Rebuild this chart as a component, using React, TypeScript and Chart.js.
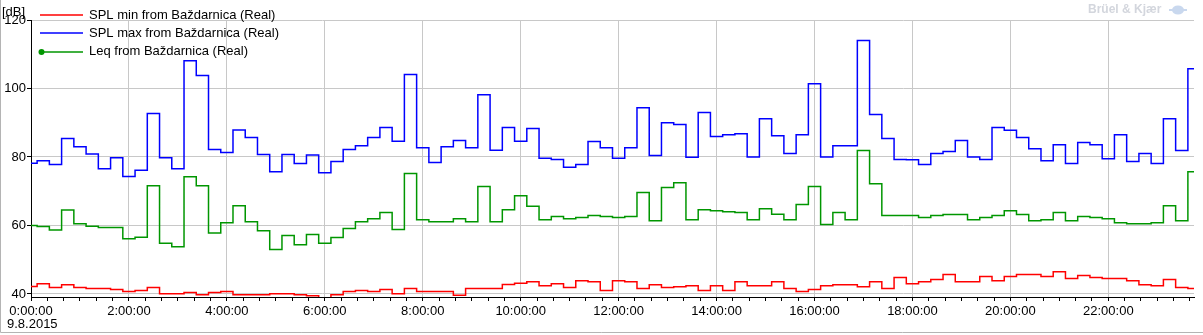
import React, { useEffect, useRef } from 'react';
import { Chart, registerables } from 'chart.js';

Chart.register(...registerables);

// ---- data ----
const STEP_MINUTES = 15; // sampling interval
const X_MAX_MINUTES = 1425; // 23:45
const X_MINOR_TICK_MINUTES = 20;
const X_MAJOR_TICK_MINUTES = 120;
const X_TICK_LABELS = ['0:00:00', '2:00:00', '4:00:00', '6:00:00', '8:00:00', '10:00:00', '12:00:00', '14:00:00', '16:00:00', '18:00:00', '20:00:00', '22:00:00'];
const Y_TICKS = [40, 60, 80, 100, 120];
const Y_MIN = 39.12;
const Y_MAX = 120;
const DATE_LABEL = '9.8.2015';
const Y_UNIT = '[dB]';
const SERIES_NAMES = ['SPL min from Baždarnica (Real)', 'SPL max from Baždarnica (Real)', 'Leq from Baždarnica (Real)'];
const SERIES_COLORS = ['#ff0000', '#0000ff', '#009600'];

const splMin = [
  42.2, 43.0, 41.9, 42.7, 41.9, 41.6, 41.6, 41.3, 40.7, 41.0, 41.9, 40.1, 40.1, 40.4, 39.8, 40.4,
  40.7, 39.8, 39.8, 39.8, 40.1, 40.1, 39.8, 39.5, 38.5, 39.8, 40.7, 41.0, 40.7, 41.3, 40.1, 41.6,
  40.7, 40.7, 40.7, 39.6, 41.6, 41.6, 41.6, 42.8, 43.1, 43.6, 42.4, 43.0, 41.9, 43.9, 43.6, 41.0,
  43.9, 43.6, 41.6, 42.7, 41.9, 42.1, 42.4, 41.0, 42.4, 41.0, 43.6, 42.4, 42.4, 43.6, 41.6, 40.7,
  41.3, 42.4, 42.7, 42.7, 42.1, 43.6, 41.6, 44.8, 43.0, 43.6, 44.2, 45.7, 43.6, 43.6, 45.1, 43.9,
  45.1, 45.7, 45.7, 45.1, 46.5, 44.5, 45.4, 44.8, 44.5, 44.5, 43.9, 42.7, 42.4, 44.2, 41.9, 41.6,
];

const splMax = [
  78.2, 78.9, 77.8, 85.4, 83.0, 80.9, 76.6, 79.8, 74.3, 76.1, 92.7, 79.8, 76.6, 108.1, 103.8, 82.2,
  81.3, 87.9, 85.7, 80.7, 75.7, 80.7, 78.1, 80.6, 75.4, 78.7, 82.2, 83.3, 85.7, 88.6, 84.6, 104.1,
  82.7, 78.4, 83.0, 84.8, 82.7, 98.2, 82.0, 88.6, 84.6, 88.3, 79.6, 79.3, 77.0, 77.8, 84.5, 82.7,
  79.6, 82.7, 94.4, 80.4, 90.0, 89.5, 79.9, 93.0, 86.0, 86.5, 86.8, 80.0, 91.2, 86.2, 81.0, 86.5,
  101.4, 80.0, 83.3, 83.3, 114.0, 92.4, 85.4, 79.3, 79.2, 77.8, 81.0, 81.6, 84.8, 80.0, 79.3, 88.6,
  87.8, 85.7, 82.4, 78.9, 83.6, 78.1, 84.2, 83.6, 79.5, 86.5, 78.7, 81.0, 78.1, 91.2, 81.9, 105.8,
];

const leq = [
  60.0, 59.7, 58.7, 64.5, 60.5, 59.8, 59.4, 59.4, 56.1, 56.6, 71.6, 54.8, 53.8, 74.2, 71.6, 57.8,
  60.8, 65.8, 61.1, 58.5, 53.0, 57.1, 54.4, 57.4, 54.8, 56.5, 59.1, 61.1, 62.0, 63.8, 58.8, 75.2,
  61.7, 61.1, 61.1, 62.0, 61.1, 71.4, 61.1, 64.6, 68.7, 65.6, 61.7, 62.6, 62.0, 62.3, 62.9, 62.6,
  62.3, 62.6, 69.6, 61.4, 71.1, 72.5, 61.7, 64.6, 64.3, 64.0, 63.8, 61.7, 64.9, 63.3, 61.7, 66.1,
  71.4, 60.3, 63.8, 61.7, 81.9, 72.2, 62.9, 62.9, 62.9, 62.3, 62.9, 63.2, 63.2, 61.7, 62.3, 62.9,
  64.3, 63.2, 61.4, 61.7, 63.8, 61.4, 62.6, 62.3, 62.0, 60.8, 60.5, 60.5, 60.8, 65.8, 61.4, 75.7,
];

const FONT = '"Liberation Sans", Arial, sans-serif';

function toPoints(values: number[]) {
  return values.map((y, i) => ({ x: i * STEP_MINUTES, y }));
}

const overlayPlugin = {
  id: 'overlay',
  afterDraw(chart: any) {
    const ctx = chart.ctx as CanvasRenderingContext2D;
    ctx.save();
    // frame (left & bottom)
    ctx.strokeStyle = '#b4b4b4';
    ctx.lineWidth = 1;
    ctx.beginPath();
    ctx.moveTo(0.5, 0);
    ctx.lineTo(0.5, 332.5);
    ctx.lineTo(1203, 332.5);
    ctx.stroke();

    ctx.fillStyle = '#000';
    ctx.font = `13px ${FONT}`;
    ctx.textBaseline = 'middle';
    ctx.textAlign = 'left';
    ctx.fillText(Y_UNIT, 2, 12);
    ctx.fillText(DATE_LABEL, 7, 324);

    // legend
    const rows = [15, 33, 51.5];
    SERIES_NAMES.forEach((name, i) => {
      const y = rows[i];
      ctx.strokeStyle = SERIES_COLORS[i];
      ctx.lineWidth = 1.5;
      ctx.beginPath();
      ctx.moveTo(40, Math.round(y));
      ctx.lineTo(83, Math.round(y));
      ctx.stroke();
      if (i === 2) {
        ctx.fillStyle = SERIES_COLORS[i];
        ctx.beginPath();
        ctx.arc(41.5, Math.round(y), 3, 0, Math.PI * 2);
        ctx.fill();
      }
      ctx.fillStyle = '#000';
      ctx.font = `13px ${FONT}`;
      ctx.fillText(name, 89, y);
    });

    // watermark
    ctx.font = `bold 12px ${FONT}`;
    ctx.fillStyle = '#d3d6dd';
    ctx.fillText('Brüel & Kjær', 1088, 10);
    ctx.fillStyle = '#c9d8ee';
    ctx.beginPath();
    ctx.ellipse(1178, 10, 6, 4.5, 0, 0, Math.PI * 2);
    ctx.fill();
    ctx.fillRect(1169, 9, 18, 2);
    ctx.restore();
  },
};

export default function App() {
  const canvasRef = useRef<HTMLCanvasElement | null>(null);

  useEffect(() => {
    const canvas = canvasRef.current;
    if (!canvas) return;
    const series = [splMin, splMax, leq];
    const chart = new Chart(canvas, {
      type: 'line',
      data: {
        datasets: series.map((vals, i) => ({
          label: SERIES_NAMES[i],
          data: toPoints(vals),
          borderColor: SERIES_COLORS[i],
          backgroundColor: SERIES_COLORS[i],
          borderWidth: 1.5,
          pointRadius: 0,
          stepped: 'middle' as const,
          fill: false,
        })),
      },
      options: {
        responsive: false,
        animation: false,
        devicePixelRatio: 1,
        layout: { padding: { left: 0, right: 9, top: 20, bottom: 0 } },
        plugins: {
          legend: { display: false },
          tooltip: { enabled: false },
          title: { display: false },
        },
        scales: {
          x: {
            type: 'linear',
            min: 0,
            max: X_MAX_MINUTES,
            afterBuildTicks: (scale: any) => {
              const ticks = [];
              for (let v = 0; v < X_MAX_MINUTES; v += X_MINOR_TICK_MINUTES) ticks.push({ value: v });
              scale.ticks = ticks;
            },
            afterFit: (scale: any) => {
              scale.height = 38;
            },
            ticks: {
              autoSkip: false,
              maxRotation: 0,
              minRotation: 0,
              padding: 3,
              color: '#000',
              font: { family: FONT, size: 13 },
              callback: (v: any) => {
                const n = Number(v);
                return n % X_MAJOR_TICK_MINUTES === 0 ? X_TICK_LABELS[n / X_MAJOR_TICK_MINUTES] : '';
              },
            },
            grid: {
              color: (c: any) => (c.tick && c.tick.value % X_MAJOR_TICK_MINUTES === 0 ? '#c8c8c8' : 'rgba(0,0,0,0)'),
              tickColor: '#000',
              tickLength: 4,
              lineWidth: 1,
            },
            border: { color: '#000', width: 1 },
          },
          y: {
            type: 'linear',
            min: Y_MIN,
            max: Y_MAX,
            afterBuildTicks: (scale: any) => {
              scale.ticks = Y_TICKS.map((v) => ({ value: v }));
            },
            afterFit: (scale: any) => {
              scale.width = 31;
            },
            ticks: {
              padding: 1,
              color: '#000',
              font: { family: FONT, size: 13 },
              callback: (v: any) => String(v),
            },
            grid: {
              color: '#c8c8c8',
              tickColor: '#000',
              tickLength: 4,
              lineWidth: 1,
            },
            border: { color: '#000', width: 1 },
          },
        },
      },
      plugins: [overlayPlugin],
    });
    return () => chart.destroy();
  }, []);

  return (
    <div style={{ position: 'absolute', left: 0, top: 0, width: 1203, height: 335, background: '#fff' }}>
      <canvas ref={canvasRef} width={1203} height={335} style={{ display: 'block', width: 1203, height: 335 }} />
    </div>
  );
}
